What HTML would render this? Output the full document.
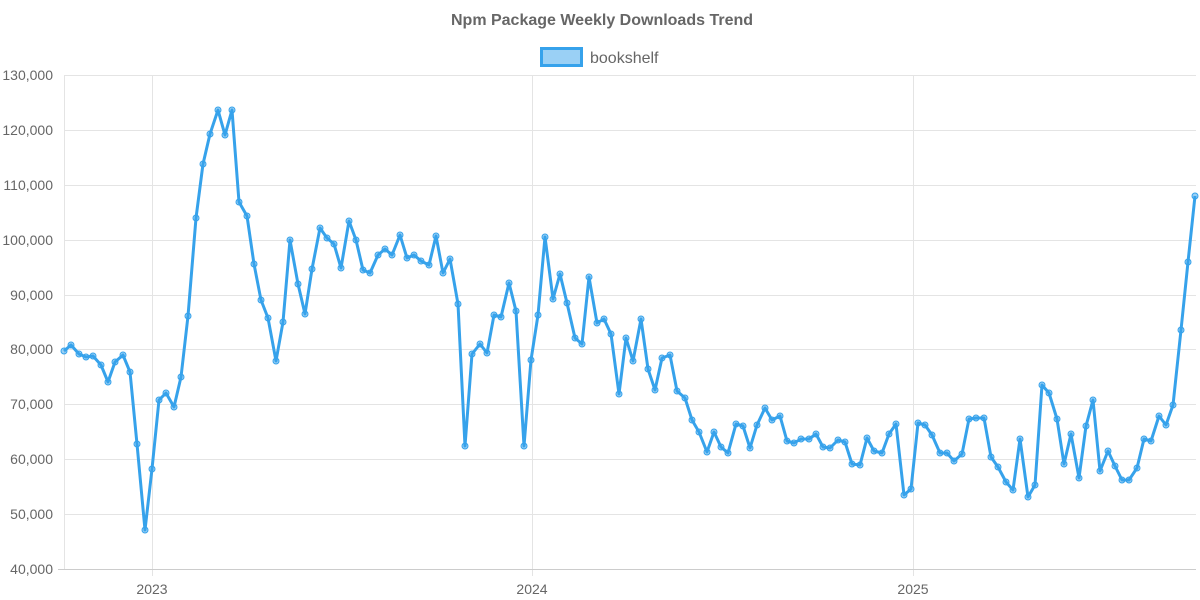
<!DOCTYPE html>
<html><head><style>body{margin:0;background:#fff}svg{display:block;font-family:"Liberation Sans",sans-serif}</style></head>
<body>
<svg width="1200" height="600" xmlns="http://www.w3.org/2000/svg">
<text x="602" y="25" text-anchor="middle" font-size="16" font-weight="bold" fill="#666">Npm Package Weekly Downloads Trend</text>
<rect x="541.5" y="48.5" width="40" height="17" fill="rgba(54,162,235,0.5)" stroke="#36a2eb" stroke-width="3"/>
<text x="590" y="63" font-size="16" fill="#666">bookshelf</text>
<g stroke="#e4e4e4" stroke-width="1">
<line x1="64" y1="75.5" x2="1196" y2="75.5"/><line x1="64" y1="130.5" x2="1196" y2="130.5"/><line x1="64" y1="185.5" x2="1196" y2="185.5"/><line x1="64" y1="240.5" x2="1196" y2="240.5"/><line x1="64" y1="295.5" x2="1196" y2="295.5"/><line x1="64" y1="349.5" x2="1196" y2="349.5"/><line x1="64" y1="404.5" x2="1196" y2="404.5"/><line x1="64" y1="459.5" x2="1196" y2="459.5"/><line x1="64" y1="514.5" x2="1196" y2="514.5"/>
<line x1="152.5" y1="75" x2="152.5" y2="576"/><line x1="532.5" y1="75" x2="532.5" y2="576"/><line x1="913.5" y1="75" x2="913.5" y2="576"/>
<line x1="64.5" y1="75" x2="64.5" y2="569"/>
</g>
<line x1="58" y1="569.5" x2="1196" y2="569.5" stroke="#ccc"/>
<g font-size="14" fill="#666" text-anchor="end">
<text x="53" y="80">130,000</text><text x="53" y="135">120,000</text><text x="53" y="190">110,000</text><text x="53" y="245">100,000</text><text x="53" y="300">90,000</text><text x="53" y="354">80,000</text><text x="53" y="409">70,000</text><text x="53" y="464">60,000</text><text x="53" y="519">50,000</text><text x="53" y="574">40,000</text>
</g>
<g font-size="14" fill="#666" text-anchor="middle"><text x="152" y="594">2023</text><text x="532" y="594">2024</text><text x="913" y="594">2025</text></g>
<polyline id="p" fill="none" stroke="#36a2eb" stroke-width="3" stroke-linejoin="round" points="64,351 71,345 79,354 86,357 93,356 101,365 108,382 115,362 123,355 130,372 137,444 145,530 152,469 159,400 166,393 174,407 181,377 188,316 196,218 203,164 210,134 218,110 225,135 232,110 239,202 247,216 254,264 261,300 268,318 276,361 283,322 290,240 298,284 305,314 312,269 320,228 327,238 334,244 341,268 349,221 356,240 363,270 370,273 378,255 385,249 392,255 400,235 407,258 414,255 421,261 429,265 436,236 443,273 450,259 458,304 465,446 472,354 480,344 487,353 494,315 501,317 509,283 516,311 524,446 531,360 538,315 545,237 553,299 560,274 567,303 575,338 582,344 589,277 597,323 604,319 611,334 619,394 626,338 633,361 641,319 648,369 655,390 662,358 670,355 677,391 685,398 692,420 699,432 707,452 714,432 721,447 728,453 736,424 743,426 750,448 757,425 765,408 772,420 780,416 787,441 794,443 801,439 809,439 816,434 823,447 830,448 838,440 845,442 852,464 860,465 867,438 874,451 882,453 889,434 896,424 904,495 911,489 918,423 925,425 932,435 940,453 947,453 954,461 962,454 969,419 976,418 984,418 991,457 998,467 1006,482 1013,490 1020,439 1028,497 1035,485 1042,385 1049,393 1057,419 1064,464 1071,434 1079,478 1086,426 1093,400 1100,471 1108,451 1115,466 1122,480 1129,480 1137,468 1144,439 1151,441 1159,416 1166,425 1173,405 1181,330 1188,262 1195,196"/>
<g id="d" fill="rgba(54,162,235,0.5)" stroke="#36a2eb" stroke-width="1"></g>
<script>
var pts=document.getElementById('p').getAttribute('points').trim().split(/\s+/),g=document.getElementById('d');
pts.forEach(function(s){var a=s.split(',');var c=document.createElementNS('http://www.w3.org/2000/svg','circle');c.setAttribute('cx',a[0]);c.setAttribute('cy',a[1]);c.setAttribute('r','3');g.appendChild(c);});
</script>
</svg>
</body></html>
